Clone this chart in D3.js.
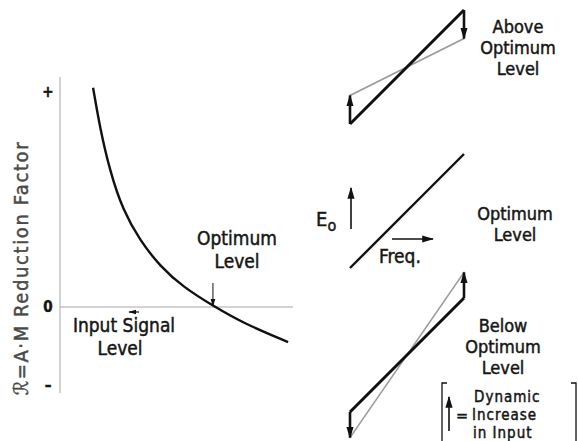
<!DOCTYPE html>
<html>
<head>
<meta charset="utf-8">
<script src="https://cdn.jsdelivr.net/npm/d3@7"></script>
<style>
  body { margin: 0; background: #fff; }
  text { font-family: "DejaVu Sans Condensed", "DejaVu Sans", sans-serif; fill: #151515; stroke: #151515; stroke-width: 0.45px; }
</style>
</head>
<body>
<script>
// reduction factor curve
const curveX = [1.42, 1.72, 2.15, 2.70, 3.43, 4.29, 5.28, 6.65, 7.85, 9.79];
const curveY = [1.02, 0.83, 0.63, 0.45, 0.31, 0.19, 0.093, 0, -0.205, -0.45];
const yTickValues = [1, 0, -1];
const yTickLabels = ["+", "0", "–"];
const optimumX = 6.65;

// right hand panels: response line (black) vs. grey dynamic line
const panelNames = ["above", "optimum", "below"];
const greyGain = [0.5, null, 1.45];
const panelLabels = [["Above", "Optimum", "Level"], ["Optimum", "Level"], ["Below", "Optimum", "Level"]];

const W = 578, H = 441;
const svg = d3.select("body").append("svg")
    .attr("width", W).attr("height", H);

const defs = svg.append("defs");
function marker(id, size) {
  defs.append("marker")
      .attr("id", id)
      .attr("viewBox", "0 0 10 10")
      .attr("refX", 9).attr("refY", 5)
      .attr("markerUnits", "userSpaceOnUse")
      .attr("markerWidth", size).attr("markerHeight", size)
      .attr("orient", "auto")
      .append("path").attr("d", "M0,2 L10,5 L0,8 Z").attr("fill", "#111");
}
marker("arr", 12);
marker("arrSmall", 8);

// ---------- left graph ----------
const x = d3.scaleLinear().domain([0, 10]).range([60, 293]);
const y = d3.scaleLinear().domain([-1, 0, 1]).range([385, 307, 92]);

// axes
svg.append("line")
    .attr("x1", x(0)).attr("x2", x(0))
    .attr("y1", 77).attr("y2", 393)
    .attr("stroke", "#b5b5b5").attr("stroke-width", 1.2);
svg.append("line")
    .attr("x1", x(0)).attr("x2", x(10))
    .attr("y1", y(0)).attr("y2", y(0))
    .attr("stroke", "#a8a8a8").attr("stroke-width", 1.2);

svg.selectAll(".ytick")
    .data(yTickValues)
    .join("text")
    .attr("x", 48)
    .attr("y", d => y(d))
    .attr("dy", "0.35em")
    .attr("text-anchor", "middle")
    .style("font-size", "15px")
    .style("font-weight", "bold")
    .text((d, i) => yTickLabels[i]);

// y axis label
svg.append("text")
    .attr("transform", "translate(28,268) rotate(-90)")
    .attr("text-anchor", "middle")
    .style("font-size", "20px")
    .style("letter-spacing", "1.6px")
    .style("fill", "#4a4a4a")
    .style("stroke", "#4a4a4a")
    .text("ℛ=A·M Reduction Factor");

// the curve
svg.append("path")
    .datum(curveX.map((d, i) => [d, curveY[i]]))
    .attr("fill", "none")
    .attr("stroke", "#111")
    .attr("stroke-width", 2.4)
    .attr("d", d3.line()
        .x(d => x(d[0]))
        .y(d => y(d[1]))
        .curve(d3.curveBasis));

// optimum marker
svg.append("line")
    .attr("x1", x(optimumX) - 2).attr("x2", x(optimumX) - 2)
    .attr("y1", 283).attr("y2", y(0) - 1)
    .attr("stroke", "#111").attr("stroke-width", 1)
    .attr("marker-end", "url(#arrSmall)");
const optLeft = svg.append("text")
    .attr("text-anchor", "middle")
    .style("font-size", "19px");
optLeft.append("tspan").attr("x", 237).attr("y", 245).text("Optimum");
optLeft.append("tspan").attr("x", 237).attr("y", 268).text("Level");

// input signal label
const inp = svg.append("text")
    .attr("text-anchor", "middle")
    .style("font-size", "19px");
inp.append("tspan").attr("x", 124).attr("y", 332).text("Input Signal");
inp.append("tspan").attr("x", 120).attr("y", 355).text("Level");
svg.append("line")
    .attr("x1", 139).attr("x2", 129)
    .attr("y1", 312).attr("y2", 312)
    .attr("stroke", "#111").attr("stroke-width", 1.2)
    .attr("marker-end", "url(#arrSmall)");

// ---------- right panels ----------
const cy = d3.scalePoint().domain(panelNames).range([67, 355]);
const cx = 407;
const px = d3.scaleLinear().domain([-1, 1]).range([-57, 57]);
const py = d3.scaleLinear().domain([-1, 1]).range([57, -57]);

panelNames.forEach((name, i) => {
  const g = svg.append("g").attr("transform", `translate(${cx},${cy(name)})`);
  const gain = greyGain[i];
  if (gain !== null) {
    g.append("line")
        .attr("x1", px(-1)).attr("y1", py(-gain))
        .attr("x2", px(1)).attr("y2", py(gain))
        .attr("stroke", "#9a9a9a").attr("stroke-width", 1.6);
    // dynamic change arrows from black to grey line ends
    [-1, 1].forEach(s => {
      g.append("line")
          .attr("x1", px(s)).attr("y1", py(s))
          .attr("x2", px(s)).attr("y2", py(s * gain))
          .attr("stroke", "#111").attr("stroke-width", 2.6)
          .attr("marker-end", "url(#arr)");
    });
  }
  g.append("line")
      .attr("x1", px(-1)).attr("y1", py(-1))
      .attr("x2", px(1)).attr("y2", py(1))
      .attr("stroke", "#111")
      .attr("stroke-width", gain === null ? 2.4 : 3);
});

// panel labels
const labelPos = [[518, 33], [515, 220], [503, 332]];
panelLabels.forEach((lines, i) => {
  const t = svg.append("text")
      .attr("text-anchor", "middle")
      .style("font-size", "18px");
  lines.forEach((s, j) => {
    t.append("tspan")
        .attr("x", labelPos[i][0])
        .attr("y", labelPos[i][1] + j * 21)
        .text(s);
  });
});

// E0 / Freq. annotations
const e0 = svg.append("text").attr("x", 316).attr("y", 226).style("font-size", "20px");
e0.append("tspan").text("E");
e0.append("tspan").attr("dy", 5).style("font-size", "16px").text("o");
svg.append("line")
    .attr("x1", 351).attr("x2", 351).attr("y1", 229).attr("y2", 188)
    .attr("stroke", "#111").attr("stroke-width", 1.6)
    .attr("marker-end", "url(#arr)");
svg.append("text").attr("x", 379).attr("y", 263).style("font-size", "19px").text("Freq.");
svg.append("line")
    .attr("x1", 392).attr("x2", 433).attr("y1", 239).attr("y2", 239)
    .attr("stroke", "#111").attr("stroke-width", 1.6)
    .attr("marker-end", "url(#arr)");

// legend bracket
svg.append("path")
    .attr("d", "M447,383 H442 V441 M571,383 H576 V441")
    .attr("fill", "none").attr("stroke", "#111").attr("stroke-width", 1.3);
svg.append("line")
    .attr("x1", 449).attr("x2", 449).attr("y1", 431).attr("y2", 397)
    .attr("stroke", "#111").attr("stroke-width", 1.6)
    .attr("marker-end", "url(#arr)");
svg.append("text").attr("x", 456).attr("y", 421).style("font-size", "16px").text("=");
const leg = svg.append("text").style("font-size", "15px").style("letter-spacing", "1px");
leg.append("tspan").attr("x", 474).attr("y", 402).text("Dynamic");
leg.append("tspan").attr("x", 472).attr("y", 420).text("Increase");
leg.append("tspan").attr("x", 473).attr("y", 438).text("in Input");
</script>
</body>
</html>
